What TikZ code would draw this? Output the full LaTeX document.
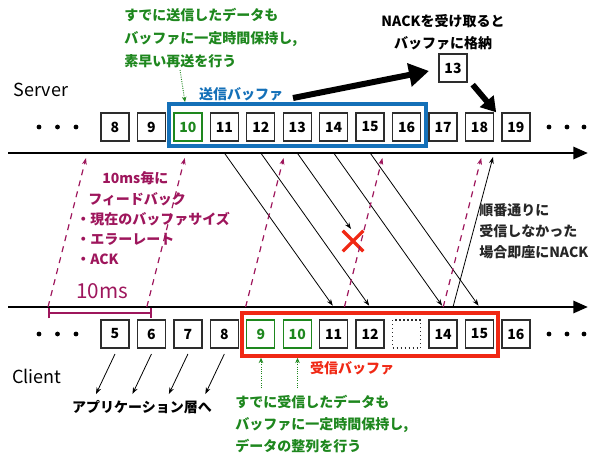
\documentclass[tikz,border=0pt]{standalone}
\usepackage{fontspec}
\setmainfont{Noto Sans CJK JP}
\usetikzlibrary{arrows.meta,shapes.misc}
\definecolor{bufblue}{RGB}{20,112,184}
\definecolor{bufred}{RGB}{240,40,20}
\definecolor{okgreen}{RGB}{30,135,30}
\definecolor{fbpurple}{RGB}{158,22,92}
\definecolor{darkbox}{RGB}{45,45,45}
\begin{document}
\begin{tikzpicture}[x=0.75pt,y=-0.75pt,
  pkt/.style={draw=darkbox, line width=1pt, minimum width=21pt, minimum height=21pt, inner sep=0pt, font=\fontsize{10.5}{12}\selectfont\bfseries},
  greenpkt/.style={pkt, draw=okgreen, text=okgreen},
  lostpkt/.style={pkt, dotted},
  jtext/.style={font=\fontsize{10.5}{12}\selectfont\bfseries, inner sep=0pt},
  dotnode/.style={circle, fill=black, inner sep=0pt, minimum size=3.6pt},
  axis/.style={line width=2.2pt, -{Triangle[length=11pt,width=9pt]}},
  data/.style={line width=0.6pt, -{Stealth[length=5pt,width=3.6pt]}, shorten >=1.2pt},
  fb/.style={fbpurple, line width=0.9pt, dash pattern=on 4.5pt off 4pt, -{Stealth[length=5pt,width=3.6pt]}},
  gdot/.style={okgreen, line width=0.7pt, densely dotted, -{Stealth[length=4pt,width=3.4pt]}},
  bigarrow/.style={line width=4.5pt, -{Triangle[length=15pt,width=17pt]}},
  bigarrowb/.style={line width=4.3pt, -{Triangle[length=11pt,width=13pt]}},
  apparrow/.style={line width=0.6pt, -{Stealth[length=5pt,width=3.6pt]}},
]
\useasboundingbox (0,0) rectangle (595,454);

% labels
\node[font=\fontsize{13.5}{15}\selectfont, inner sep=0pt] (server) at (41,90) {Server};
\node[font=\fontsize{13.5}{15}\selectfont, inner sep=0pt] (client) at (37,376) {Client};

% server packets
\foreach \n/\st [count=\i from 0] in {8/pkt,9/pkt,10/greenpkt,11/pkt,12/pkt,13/pkt,14/pkt,15/pkt,16/pkt,17/pkt,18/pkt,19/pkt}
  \node[\st] (s\n) at ({115+36.45*\i},127) {\n};
% client packets
\foreach \n/\st [count=\i from 0] in {5/pkt,6/pkt,7/pkt,8/pkt,9/greenpkt,10/greenpkt,11/pkt,12/pkt,13/lostpkt,14/pkt,15/pkt,16/pkt}
  \node[\st] (c\n) at ({115+36.45*\i},334) {\ifnum\n=13 \else\n\fi};

% dots
\foreach \k/\x in {1/39,2/57.5,3/76,4/549,5/567,6/584} {
  \node[dotnode] (sd\k) at (\x,127) {};
  \node[dotnode] (cd\k) at (\x,334) {};
}

% buffers
\node[draw=bufblue, line width=2.3pt, minimum width=192.75pt, minimum height=31.5pt, inner sep=0pt] (sbuf) at (297.5,125) {};
\node[draw=bufred, line width=2.6pt, minimum width=192pt, minimum height=32.25pt, inner sep=0pt] (cbuf) at (370,334.5) {};
\node[jtext, text=bufblue] (sbuflbl) at (241,94) {送信バッファ};
\node[jtext, text=bufred] (cbuflbl) at (352,368) {受信バッファ};

% axes
\coordinate (sa0) at (8,153); \coordinate (sa1) at (588,153);
\coordinate (ca0) at (8,307); \coordinate (ca1) at (588,307);
\draw[axis] (sa0) -- (sa1);
\draw[axis] (ca0) -- (ca1);

% data packets server -> client
\foreach \p in {11,12,14,15}
  \draw[data] (s\p |- sa0) -- (c\p |- ca0);
\coordinate (lostend) at (351,229);
\draw[data, shorten >=0pt] (s13 |- sa0) -- (lostend);
\node[cross out, draw=bufred, line width=2.4pt, minimum size=13pt, inner sep=0pt] (lossx) at (353,241) {};

% feedback arrows
\foreach \i in {0,...,4} {
  \coordinate (fbb\i) at ({48+98.8*\i},307);
  \coordinate (fbt\i) at ({86+98.8*\i},158);
  \draw[fb] (fbb\i) -- (fbt\i);
}
% NACK
\coordinate (nackb) at (453,307);
\coordinate (nackt) at (493,157);
\draw[line width=0.6pt, -{Stealth[length=5pt,width=3.6pt]}] (nackb) -- (nackt);

% 10ms bracket
\coordinate (tm0) at (48,313); \coordinate (tm1) at (152,313);
\draw[fbpurple, line width=1.5pt, {Bar[width=8pt]}-{Bar[width=8pt]}] (tm0) -- (tm1);
\node[text=fbpurple, font=\fontsize{15.5}{17}\selectfont, inner sep=0pt] (tmlbl) at (102,291) {10ms};

% feedback text
\node[jtext, text=fbpurple, anchor=west] (fb1) at (102,178) {10ms毎に};
\node[jtext, text=fbpurple, anchor=west] (fb2) at (88,199) {フィードバック};
\node[jtext, text=fbpurple, anchor=west] (fb3) at (76,219) {・現在のバッファサイズ};
\node[jtext, text=fbpurple, anchor=west] (fb4) at (76,239) {・エラーレート};
\node[jtext, text=fbpurple, anchor=west] (fb5) at (76,259) {・ACK};

% NACK text
\node[jtext, text=black!85, anchor=west, align=left, font=\fontsize{10.5}{15.75}\selectfont\bfseries] (nacktxt) at (479,231) {順番通りに\\受信しなかった\\場合即座にNACK};

% top right
\node[jtext, align=center, font=\fontsize{10.5}{16.5}\selectfont\bfseries] (nackrecv) at (443,32) {NACKを受け取ると\\バッファに格納};
\node[pkt] (n13) at (453,68) {13};
\coordinate (ba0) at (293,98); \coordinate (ba1) at (429,71);
\draw[bigarrow] (ba0) -- (ba1);
\draw[bigarrowb] ([shift={(5,2)}]n13.south east) -- ([xshift=1.5pt]s18.north east);

% top green text
\node[jtext, text=okgreen, anchor=west, align=left, font=\fontsize{10.5}{16.9}\selectfont\bfseries] (gtop) at (124,38) {すでに送信したデータも\\バッファに一定時間保持し,\\素早い再送を行う};
\coordinate (gts) at (180,70); \coordinate (gte) at (185,102);
\draw[gdot] (gts) -- (gte);

% bottom green text
\node[jtext, text=okgreen, anchor=west, align=left, font=\fontsize{10.5}{16.5}\selectfont\bfseries] (gbot) at (235,424) {すでに受信したデータも\\バッファに一定時間保持し,\\データの整列を行う};
\coordinate (gb9) at (261,388); \coordinate (gb10) at (297.5,388);
\draw[gdot] (gb9) -- (gb9 |- cbuf.south);
\draw[gdot] (gb10) -- (gb10 |- cbuf.south);

% to application layer
\foreach \p in {5,6,7,8}
  \draw[apparrow] ([yshift=-4pt]c\p.south) -- ++(-19,40);
\node[jtext] (app) at (142,407) {アプリケーション層へ};

\end{tikzpicture}
\end{document}
